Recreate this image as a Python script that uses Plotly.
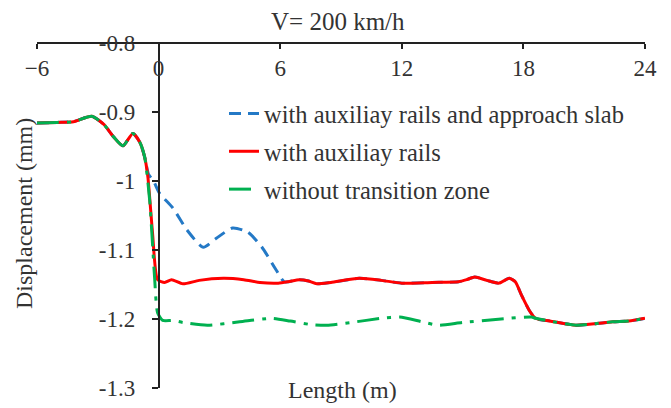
import plotly.graph_objects as go

# ---- data ----
x_common = [-6, -5, -4.2, -3.3, -2.7, -2.25, -1.76, -1.27, -0.94, -0.69]
y_common = [-0.916, -0.915, -0.914, -0.906, -0.918, -0.935, -0.949, -0.931, -0.943, -0.965]

x_red = [-0.53, -0.3, -0.05, 0.3, 0.64, 1.2, 2.0, 3.2, 4.2, 5.0, 5.9, 6.4, 6.95, 7.4, 7.8,
         8.5, 9.9, 11.0, 12.0, 13.5, 14.8, 15.2, 15.6, 16.2, 16.8, 17.3, 17.6, 17.9, 18.3,
         18.6, 19.3, 20.6, 21.5, 22.4, 23.2, 24]
y_red = [-0.994, -1.075, -1.143, -1.147, -1.143, -1.149, -1.144, -1.141, -1.143, -1.147,
         -1.148, -1.146, -1.143, -1.145, -1.149, -1.147, -1.141, -1.144, -1.148, -1.147,
         -1.146, -1.143, -1.139, -1.144, -1.148, -1.141, -1.146, -1.165, -1.188, -1.199,
         -1.203, -1.209, -1.207, -1.204, -1.203, -1.199]

x_blue = [-0.5, -0.25, 0.05, 0.7, 1.4, 2.2, 2.85, 3.65, 4.4, 5.1, 5.8, 6.2]
y_blue = [-0.99, -1.0, -1.018, -1.039, -1.071, -1.096, -1.083, -1.068, -1.074, -1.096,
          -1.129, -1.146]

x_green = [-0.44, -0.2, -0.05, 0.2, 0.7, 1.2, 2.4, 4.0, 5.6, 6.5, 7.5, 8.3, 9.5, 11.0,
           11.9, 13.0, 13.8, 15.0, 16.9, 18.4]
y_green = [-1.028, -1.139, -1.191, -1.202, -1.202, -1.205, -1.209, -1.204, -1.199, -1.203,
           -1.208, -1.209, -1.205, -1.199, -1.197, -1.204, -1.209, -1.205, -1.200, -1.197]

names = ["with auxiliay rails and approach slab", "with auxiliay rails", "without transition zone"]
x_ticks = [-6, 0, 6, 12, 18, 24]
y_ticks = [-0.8, -0.9, -1.0, -1.1, -1.2, -1.3]
y_ticklabels = ["-0.8", "-0.9", "-1", "-1.1", "-1.2", "-1.3"]

# build full series
red_x = x_common + x_red
red_y = y_common + y_red
i_b = next(i for i, v in enumerate(x_red) if v > x_blue[-1] + 0.3)
blue_x = x_common + x_blue + x_red[i_b:]
blue_y = y_common + y_blue + y_red[i_b:]
i_g = next(i for i, v in enumerate(x_red) if v > x_green[-1])
green_x = x_common + x_green + x_red[i_g:]
green_y = y_common + y_green + y_red[i_g:]

FONT = "Liberation Serif"
TXT = "#333333"

fig = go.Figure()
fig.add_trace(go.Scatter(x=blue_x, y=blue_y, mode="lines", name=names[0], legendgroup="a",
                         line=dict(color="#2479C6", width=3, dash="12px,7px", shape="spline", smoothing=0.6)))
fig.add_trace(go.Scatter(x=red_x, y=red_y, mode="lines", name=names[1], legendgroup="b",
                         line=dict(color="#FF0000", width=3, shape="spline", smoothing=0.6)))
fig.add_trace(go.Scatter(x=green_x, y=green_y, mode="lines", name=names[2], legendgroup="c",
                         line=dict(color="#00B050", width=3, dash="22px,8px,4px,8px", shape="spline", smoothing=0.6)))

# page body has an 8px margin, so margins are shifted to keep the plot box where the reference has it
fig.update_layout(
    width=671, height=408,
    margin=dict(l=29, r=34, t=35, b=28, autoexpand=False),
    paper_bgcolor="white", plot_bgcolor="white",
    font=dict(family=FONT, size=24, color=TXT),
    showlegend=True,
    legend=dict(x=(224 - 37) / 608, y=1 - (91 - 43) / 345, xanchor="left", yanchor="top",
                bgcolor="rgba(0,0,0,0)",
                font=dict(size=24.5, family=FONT, color=TXT), tracegroupgap=3,
                traceorder="grouped"),
    xaxis=dict(range=[-6, 24], domain=[0, 1], side="bottom", anchor="free", position=1,
               tickvals=x_ticks,
               showline=True, linecolor="#222", linewidth=1.5, ticks="outside", ticklen=5,
               tickcolor="#222", tickwidth=1.5,
               tickfont=dict(size=23, family=FONT, color=TXT), showgrid=False, zeroline=False),
    yaxis=dict(range=[-1.3, -0.79995], domain=[0, 1], anchor="free", position=0.2, tickvals=y_ticks,
               ticktext=y_ticklabels, showline=True, linecolor="#222", linewidth=1.5,
               ticks="outside", ticklen=6, tickcolor="#222", tickwidth=1.5,
               ticklabelstandoff=12,
               tickfont=dict(size=23, family=FONT, color=TXT), showgrid=False, zeroline=False),
    annotations=[
        dict(text="V= 200 km/h", xref="paper", yref="paper", x=(338 - 37) / 608, y=1 + 21 / 345,
             showarrow=False, xanchor="center", yanchor="middle", font=dict(size=25, family=FONT, color=TXT)),
        dict(text="Length (m)", xref="paper", yref="paper", x=(342 - 37) / 608, y=-2 / 345,
             showarrow=False, xanchor="center", yanchor="middle", font=dict(size=24, family=FONT, color=TXT)),
        dict(text="Displacement (mm)", xref="paper", yref="paper", x=(24 - 37) / 608, y=(388 - 214) / 345,
             textangle=-90, showarrow=False, xanchor="center", yanchor="middle",
             font=dict(size=24, family=FONT, color=TXT)),
    ],
)

fig.write_html("out.html")
